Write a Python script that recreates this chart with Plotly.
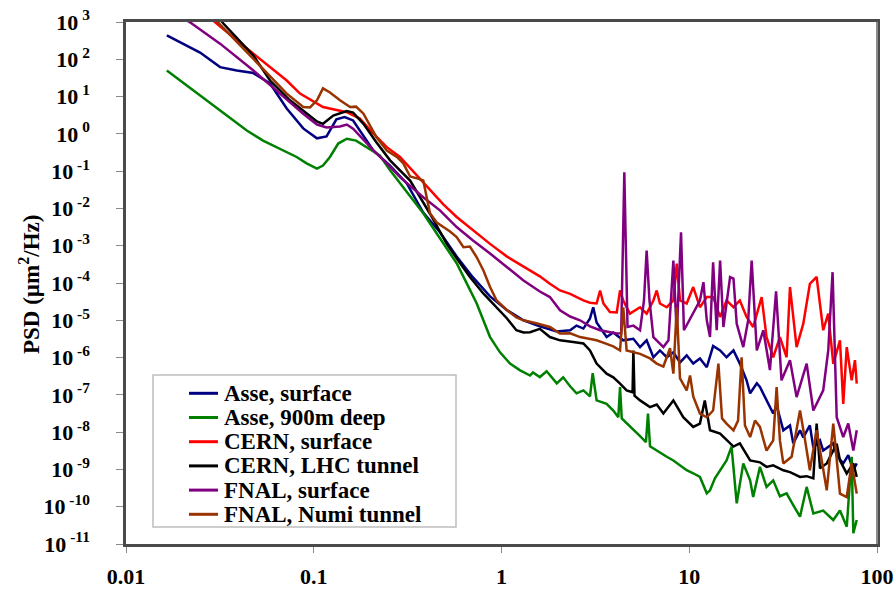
import plotly.graph_objects as go

# ---------------------------------------------------------------- data
series_names = [
    "Asse, surface",
    "Asse, 900m deep",
    "CERN, surface",
    "CERN, LHC tunnel",
    "FNAL, surface",
    "FNAL, Numi tunnel",
]
series_colors = ["#000080", "#008000", "#FF0000", "#000000", "#800080", "#993300"]

asse_surface_f = [0.0165, 0.0248, 0.0317, 0.0389, 0.0477, 0.0585, 0.0718, 0.0879, 0.104, 0.117,
                  0.132, 0.146, 0.162, 0.208, 0.255, 0.313, 0.383, 0.470, 0.577, 0.705,
                  0.869, 1.07, 1.31, 1.60, 1.97, 2.32, 2.51, 2.73, 2.96, 3.08,
                  3.21, 3.63, 3.94, 4.45, 5.04, 5.47, 5.93, 6.44, 6.98, 7.59,
                  8.23, 8.93, 9.69, 10.5, 11.4, 12.4, 13.4, 14.6, 15.8, 17.2,
                  18.6, 20.2, 21.1, 22.9, 23.8, 25.8, 28.0, 29.2, 31.7, 34.4,
                  35.8, 38.9, 40.5, 43.9, 45.8, 49.7, 51.7, 58.5, 61.0, 66.1,
                  70.3, 74.8, 78.0]
asse_surface_psd = [437, 151, 61.7, 50, 42.7, 22.4, 4.79, 1.40, 0.76, 0.85,
                    2.45, 2.82, 2.29, 0.355, 0.141, 0.0468, 7.76e-3, 2.29e-3, 5.13e-4, 1.41e-4,
                    4.37e-5, 1.86e-5, 1.0e-5, 6.9e-6, 5.0e-6, 5.4e-6, 7.2e-6, 6.0e-6, 1.12e-5, 2.24e-5,
                    8.7e-6, 3.55e-6, 4.7e-6, 2.9e-6, 3.2e-6, 1.9e-6, 2.9e-6, 1.02e-6, 1.55e-6, 1.02e-6,
                    1.38e-6, 7.4e-7, 1.15e-6, 6.9e-7, 9.5e-7, 5.5e-7, 2.04e-6, 1.55e-6, 1.02e-6, 1.55e-6,
                    6.9e-7, 2.45e-7, 1.10e-7, 2.04e-7, 1.62e-7, 7.1e-8, 3.16e-8, 5.2e-8, 1.12e-8, 1.51e-8,
                    5.0e-9, 1.12e-8, 7.2e-9, 1.51e-8, 3.9e-9, 6.0e-9, 3.2e-9, 5.0e-9, 2.4e-9, 1.45e-9,
                    2.4e-9, 9.5e-10, 1.45e-9]

asse_deep_f = [0.0165, 0.0257, 0.0440, 0.0537, 0.0811, 0.0916, 0.104, 0.112, 0.122, 0.135,
               0.150, 0.168, 0.191, 0.225, 0.255, 0.313, 0.383, 0.470, 0.577, 0.653,
               0.738, 0.869, 0.982, 1.11, 1.25, 1.42, 1.47, 1.60, 1.74, 1.97,
               2.13, 2.32, 2.51, 2.73, 2.96, 3.06, 3.21, 3.63, 3.94, 4.19,
               4.28, 4.37, 5.04, 5.47, 5.88, 6.03, 6.18, 6.71, 7.28, 7.59,
               8.23, 8.93, 9.69, 10.5, 11.4, 12.4, 12.9, 13.7, 14.6, 15.8,
               16.8, 17.9, 19.4, 21.1, 21.9, 23.8, 25.8, 28.0, 30.4, 33.0,
               35.8, 38.9, 42.2, 45.8, 51.7, 58.5, 63.5, 69.0, 73.3, 74.8,
               78.0]
asse_deep_psd = [50, 9.5, 1.23, 0.66, 0.24, 0.162, 0.117, 0.141, 0.24, 0.55,
                 0.74, 0.66, 0.44, 0.263, 0.105, 0.0269, 7.4e-3, 1.58e-3, 3.4e-4, 9.8e-5,
                 2.82e-5, 3.55e-6, 1.38e-6, 6.9e-7, 4.6e-7, 3.3e-7, 4.0e-7, 3.0e-7, 4.3e-7, 2.04e-7,
                 2.95e-7, 1.70e-7, 1.10e-7, 1.32e-7, 9.1e-8, 3.8e-7, 7.1e-8, 5.75e-8, 3.8e-8, 2.51e-8,
                 1.62e-7, 2.34e-8, 1.12e-8, 7.8e-9, 5.4e-9, 3.16e-8, 4.2e-9, 3.2e-9, 2.57e-9, 2.19e-9,
                 1.74e-9, 1.29e-9, 9.5e-10, 7.9e-10, 6.3e-10, 2.29e-10, 2.75e-10, 5.75e-10, 9.5e-10, 1.74e-9,
                 4.1e-9, 1.23e-10, 1.45e-9, 5.1e-10, 1.82e-10, 1.17e-9, 3.4e-10, 5.1e-10, 1.91e-10, 2.29e-10,
                 1.10e-10, 5.4e-11, 3.4e-10, 6.6e-11, 7.9e-11, 4.4e-11, 7.9e-11, 2.9e-11, 2.19e-9, 1.95e-11,
                 4.4e-11]

cern_surface_f = [0.0248, 0.0304, 0.0477, 0.0718, 0.0845, 0.112, 0.150, 0.176, 0.208, 0.245,
                  0.288, 0.346, 0.416, 0.490, 0.577, 0.705, 0.869, 1.07, 1.31, 1.60,
                  1.81, 2.05, 2.32, 2.51, 2.73, 2.96, 3.21, 3.35, 3.49, 3.78,
                  4.11, 4.28, 4.45, 4.83, 5.47, 5.93, 6.44, 6.71, 6.98, 7.59,
                  8.23, 8.58, 8.93, 9.69, 10.5, 11.4, 12.4, 13.4, 14.6, 15.8,
                  17.2, 18.6, 20.2, 21.9, 24.3, 25.8, 28.0, 30.4, 33.0, 34.4,
                  37.3, 40.5, 43.9, 47.7, 51.7, 55.0, 58.5, 63.5, 66.1, 69.0,
                  73.3, 76.3, 78.0]
cern_surface_psd = [2190, 912, 141, 26.9, 12.0, 5.25, 3.80, 2.57, 1.02, 0.44,
                    0.24, 0.087, 0.0302, 0.0129, 5.9e-3, 2.57e-3, 1.12e-3, 5.1e-4, 2.69e-4, 1.51e-4,
                    9.5e-5, 6.3e-5, 5.1e-5, 4.1e-5, 3.4e-5, 2.95e-5, 2.82e-5, 6.3e-5, 2.82e-5, 1.66e-5,
                    1.62e-5, 6.3e-5, 3.4e-5, 1.51e-5, 2.24e-5, 1.51e-5, 3.4e-5, 6.3e-5, 2.82e-5, 2.24e-5,
                    3.4e-5, 3.3e-4, 3.4e-5, 2.82e-5, 7.8e-5, 2.24e-5, 4.2e-5, 4.2e-5, 1.23e-5, 3.4e-5,
                    2.24e-5, 3.4e-5, 1.23e-5, 6.6e-6, 4.2e-5, 3.55e-6, 1.02e-6, 3.55e-6, 1.02e-6, 7.8e-5,
                    1.91e-6, 8.1e-6, 9.5e-5, 1.45e-4, 5.4e-6, 1.51e-5, 6.8e-7, 2.9e-6, 5.75e-8, 1.91e-6,
                    2.45e-7, 8.5e-7, 2.0e-7]

cern_tunnel_f = [0.0264, 0.033, 0.0477, 0.0585, 0.0747, 0.0879, 0.104, 0.112, 0.127, 0.150,
                 0.162, 0.184, 0.216, 0.255, 0.326, 0.416, 0.511, 0.577, 0.679, 0.800,
                 0.942, 1.07, 1.20, 1.31, 1.42, 1.53, 1.60, 1.81, 2.05, 2.41,
                 2.73, 2.96, 3.21, 3.63, 3.94, 4.28, 4.64, 4.99, 5.04, 5.11,
                 5.47, 6.18, 6.71, 7.28, 8.23, 9.29, 10.5, 11.4, 12.1, 12.9,
                 14.6, 17.2, 18.6, 21.1, 23.8, 25.8, 28.0, 31.7, 34.4, 38.9,
                 42.2, 45.8, 47.7, 49.7, 54.0, 61.0, 63.5, 69.0, 74.8, 78.0]
cern_tunnel_psd = [3700, 912, 126, 26.9, 7.94, 4.27, 2.14, 1.86, 3.09, 4.07,
                   3.72, 1.86, 0.59, 0.195, 0.056, 7.2e-3, 1.12e-3, 4.6e-4, 1.45e-4, 5.25e-5,
                   2.24e-5, 1.12e-5, 5.4e-6, 4.7e-6, 4.8e-6, 5.4e-6, 5.9e-6, 3.55e-6, 2.9e-6, 2.63e-6,
                   2.4e-6, 1.55e-6, 6.9e-7, 3.7e-7, 2.95e-7, 2.0e-7, 1.32e-7, 1.17e-7, 1.55e-6, 9.5e-8,
                   7.1e-8, 4.7e-8, 5.5e-8, 3.16e-8, 7.1e-8, 2.51e-8, 1.38e-8, 1.70e-8, 7.1e-8, 1.12e-8,
                   9.1e-9, 4.1e-9, 5.0e-9, 1.74e-9, 1.55e-9, 1.17e-9, 1.29e-9, 9.5e-10, 8.5e-10, 6.3e-10,
                   6.6e-10, 5.75e-10, 1.70e-8, 1.07e-9, 1.45e-9, 4.9e-9, 1.74e-9, 7.8e-10, 1.45e-9, 6.3e-10]

fnal_surface_f = [0.0165, 0.0224, 0.0317, 0.0477, 0.0661, 0.0879, 0.104, 0.117, 0.138, 0.150,
                  0.162, 0.208, 0.245, 0.288, 0.383, 0.470, 0.577, 0.705, 0.869, 1.07,
                  1.31, 1.60, 1.81, 2.05, 2.32, 2.62, 2.96, 3.35, 3.78, 4.11,
                  4.34, 4.51, 4.69, 5.04, 5.47, 5.74, 5.93, 6.14, 6.44, 7.28,
                  7.75, 8.23, 8.58, 9.04, 9.37, 10.5, 11.4, 11.9, 12.4, 12.9,
                  13.4, 14.0, 14.6, 15.2, 16.5, 17.2, 17.9, 19.4, 20.6, 21.5,
                  22.9, 24.8, 26.9, 29.0, 31.0, 34.4, 37.3, 42.2, 45.8, 51.7,
                  55.0, 58.0, 61.0, 66.1, 70.3, 74.8, 78.0]
fnal_surface_psd = [2450, 912, 263, 50, 12.0, 3.47, 1.78, 1.48, 1.58, 1.78,
                    1.38, 0.363, 0.162, 0.069, 0.020, 8.9e-3, 3.16e-3, 1.38e-3, 6.2e-4, 2.63e-4,
                    1.17e-4, 5.9e-5, 4.2e-5, 1.86e-5, 1.26e-5, 1.0e-5, 6.9e-6, 5.4e-6, 4.7e-6, 4.4e-6,
                    4.5e-6, 0.093, 6.6e-6, 7.2e-6, 5.4e-6, 3.4e-5, 7.4e-4, 3.4e-5, 3.55e-6, 1.91e-6,
                    2.9e-6, 4.0e-4, 4.4e-6, 2.29e-3, 5.4e-6, 1.51e-5, 3.4e-5, 1.05e-4, 1.0e-5, 3.55e-6,
                    3.6e-4, 5.4e-6, 4.0e-4, 6.6e-6, 1.45e-4, 1.32e-4, 8.1e-6, 1.91e-6, 1.0e-5, 4.0e-4,
                    1.55e-6, 5.4e-6, 4.6e-7, 6.0e-5, 2.45e-7, 8.5e-7, 8.7e-8, 6.9e-7, 3.8e-8, 1.32e-7,
                    1.55e-6, 1.95e-4, 2.51e-8, 7.4e-9, 1.70e-8, 3.2e-9, 1.12e-8]

fnal_numi_f = [0.0264, 0.0317, 0.0477, 0.0718, 0.0879, 0.0955, 0.104, 0.112, 0.122, 0.138,
               0.156, 0.168, 0.184, 0.216, 0.245, 0.277, 0.300, 0.326, 0.359, 0.383,
               0.416, 0.452, 0.490, 0.532, 0.577, 0.627, 0.679, 0.738, 0.800, 0.869,
               0.942, 1.07, 1.20, 1.31, 1.53, 1.81, 2.05, 2.32, 2.62, 2.96,
               3.21, 3.63, 3.94, 4.28, 4.45, 4.64, 5.04, 5.47, 6.18, 6.71,
               7.28, 7.90, 8.23, 8.58, 8.93, 9.69, 10.1, 10.5, 11.4, 12.4,
               13.4, 14.3, 14.95, 15.8, 17.2, 18.2, 19.0, 19.8, 21.1, 22.4,
               23.8, 25.8, 28.0, 29.2, 30.4, 31.7, 35.1, 38.9, 41.4, 43.9,
               47.7, 54.0, 58.5, 63.5, 69.0, 73.3, 78.0]
fnal_numi_psd = [2450, 851, 102, 12.0, 5.25, 5.13, 7.94, 16.6, 12.9, 7.94,
                 5.25, 5.37, 3.47, 0.81, 0.355, 0.24, 0.162, 0.072, 0.063, 0.056,
                 7.4e-3, 4.2e-3, 3.16e-3, 2.4e-3, 1.70e-3, 9.1e-4, 9.5e-4, 4.9e-4, 2.19e-4, 7.8e-5,
                 3.4e-5, 1.86e-5, 1.20e-5, 1.0e-5, 8.3e-6, 6.6e-6, 4.4e-6, 4.5e-6, 3.55e-6, 3.1e-6,
                 2.9e-6, 2.34e-6, 2.0e-6, 1.55e-6, 2.24e-5, 1.55e-6, 1.38e-6, 1.26e-6, 9.5e-7, 6.9e-7,
                 5.75e-7, 1.78e-6, 3.7e-7, 2.24e-5, 2.75e-7, 1.32e-7, 3.3e-7, 9.1e-8, 3.16e-8, 2.51e-8,
                 3.8e-8, 6.9e-7, 2.34e-8, 1.70e-8, 1.12e-8, 2.04e-8, 1.02e-6, 1.51e-8, 7.4e-9, 2.04e-8,
                 1.38e-8, 3.2e-9, 6.0e-9, 1.62e-7, 6.0e-9, 1.45e-9, 2.19e-9, 3.8e-8, 6.0e-9, 9.5e-10,
                 1.12e-8, 2.75e-10, 1.70e-8, 2.24e-10, 1.82e-10, 1.45e-9, 2.24e-10]

x_tickvals = [0.01, 0.1, 1, 10, 100]
x_ticktext = ["0.01", "0.1", "1", "10", "100"]
y_exponents = [3, 2, 1, 0, -1, -2, -3, -4, -5, -6, -7, -8, -9, -10, -11]

# ---------------------------------------------------------------- layout
W, H = 895, 590
ML, MR, MT, MB = 126, 18, 22, 46
PW, PH = W - ML - MR, H - MT - MB
SERIF = "Liberation Serif"


def px_x(x):
    """Pixel column -> paper x."""
    return (x - ML) / PW


def px_y(y):
    """Pixel row -> paper y."""
    return (H - MB - y) / PH


series = [
    (series_names[0], asse_surface_f, asse_surface_psd),
    (series_names[1], asse_deep_f, asse_deep_psd),
    (series_names[2], cern_surface_f, cern_surface_psd),
    (series_names[3], cern_tunnel_f, cern_tunnel_psd),
    (series_names[4], fnal_surface_f, fnal_surface_psd),
    (series_names[5], fnal_numi_f, fnal_numi_psd),
]

fig = go.Figure()
for (name, f, p), color in zip(series, series_colors):
    fig.add_trace(go.Scatter(
        x=f, y=p, mode="lines", name=name,
        line=dict(color=color, width=2.5),
        showlegend=False,
    ))

tick_font = dict(family=SERIF, size=22, color="black", weight="bold")

fig.update_xaxes(
    type="log", range=[-2, 2], automargin=False,
    tickvals=x_tickvals, ticktext=x_ticktext,
    ticks="outside", ticklen=6, tickcolor="#8a8a8a", tickwidth=1,
    showline=True, mirror=True, linecolor="#4a4a4a", linewidth=2.5,
    showgrid=False, zeroline=False,
    tickfont=tick_font, ticklabelstandoff=5,
)
fig.update_yaxes(
    type="log", range=[-11, 3], automargin=False,
    tickvals=[10.0 ** e for e in y_exponents],
    ticktext=[f"10<sup> {e}</sup>" for e in y_exponents],
    ticks="outside", ticklen=7, tickcolor="#8a8a8a", tickwidth=1,
    showline=True, mirror=True, linecolor="#4a4a4a", linewidth=2.5,
    showgrid=False, zeroline=False,
    tickfont=tick_font, ticklabelstandoff=22,
)

# legend: framed box with short line samples and bold labels
legend_left, legend_right, legend_top, legend_bottom = 153, 456, 375, 527
row_y0, row_step = 393.3, 24.2
shapes = [dict(
    type="rect", xref="paper", yref="paper",
    x0=px_x(legend_left), x1=px_x(legend_right),
    y0=px_y(legend_bottom), y1=px_y(legend_top),
    line=dict(color="#bdbdbd", width=1.5), fillcolor="white", layer="above",
)]
annotations = []
for i, (name, color) in enumerate(zip(series_names, series_colors)):
    yy = px_y(row_y0 + i * row_step)
    shapes.append(dict(
        type="line", xref="paper", yref="paper",
        x0=px_x(189), x1=px_x(218), y0=yy, y1=yy,
        line=dict(color=color, width=3), layer="above",
    ))
    annotations.append(dict(
        xref="paper", yref="paper", x=px_x(222), y=yy,
        xanchor="left", yanchor="middle", showarrow=False,
        text=name, font=dict(family=SERIF, size=23, color="black", weight="bold"),
    ))

# lighter right-hand frame edge
shapes.append(dict(
    type="line", xref="paper", yref="paper", x0=1, x1=1, y0=0, y1=1,
    line=dict(color="#8c8c8c", width=2), layer="above",
))

annotations.append(dict(
    xref="paper", yref="paper", x=px_x(29), y=px_y(284),
    xanchor="center", yanchor="middle", textangle=-90, showarrow=False,
    text="PSD (\u00b5m<sup>2</sup>/Hz)",
    font=dict(family=SERIF, size=23, color="black", weight="bold"),
))

fig.update_layout(
    width=W, height=H, template="none",
    margin=dict(l=ML, r=MR, t=MT, b=MB, pad=0),
    paper_bgcolor="white", plot_bgcolor="white",
    showlegend=False,
    shapes=shapes, annotations=annotations,
)

fig.write_html("out.html")
